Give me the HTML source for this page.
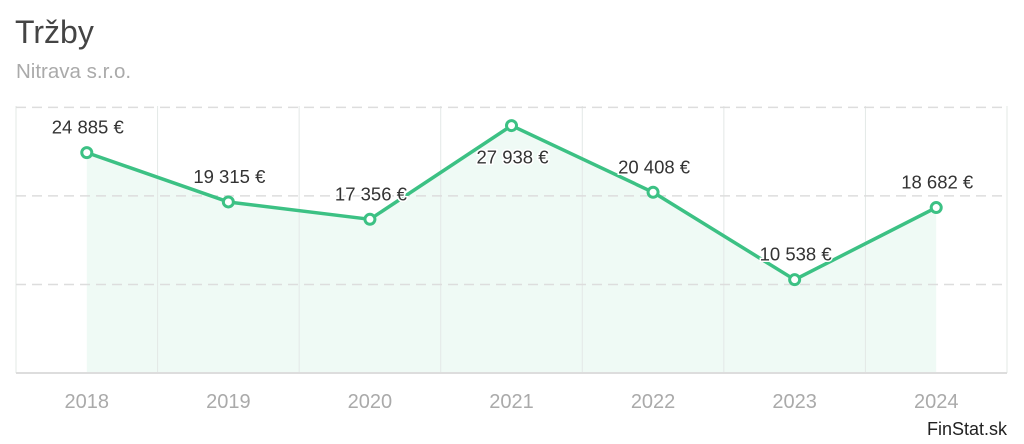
<!DOCTYPE html>
<html><head><meta charset="utf-8"><style>
body{margin:0;background:#fff;width:1024px;height:444px;overflow:hidden;font-family:"Liberation Sans",sans-serif}
svg{position:absolute;left:0;top:0}
</style></head><body>
<svg width="1024" height="444">
<text x="15" y="43" font-size="32" fill="#444">Tržby</text>
<text x="16" y="78" font-size="20.5" fill="#aaa">Nitrava s.r.o.</text>
<g id="grid"></g>
<g id="marks"></g>
<text x="1007" y="435" font-size="18" fill="#222" text-anchor="end">FinStat.sk</text>
</svg>
<script>
const years=["2018","2019","2020","2021","2022","2023","2024"];
const values=[24885,19315,17356,27938,20408,10538,18682];
const valueLabels=["24 885 €","19 315 €","17 356 €","27 938 €","20 408 €","10 538 €","18 682 €"];
const yTicks=[10000,20000,30000];
const NS="http://www.w3.org/2000/svg";
const L=16,R=1007,B=373,T=106;
const bw=(R-L)/years.length;
const x=i=>L+bw*(i+0.5);
const y=v=>B-v*(B-T)/30150;
function mk(t,a,p){const e=document.createElementNS(NS,t);for(const k in a)e.setAttribute(k,a[k]);p.appendChild(e);return e;}
const g=document.getElementById('grid'),m=document.getElementById('marks');
let d=`M${x(0)},${B}`;values.forEach((v,i)=>d+=`L${x(i)},${y(v)}`);d+=`L${x(values.length-1)},${B}Z`;
const area=mk('path',{d,fill:'#effaf5'},g);


for(let i=0;i<=years.length;i++){const ln=mk('line',{x1:L+bw*i,x2:L+bw*i,y1:T,y2:B,stroke:'#e3e8e6','stroke-width':1},g);

}
yTicks.forEach(t=>{const ln=mk('line',{x1:L,x2:R,y1:y(t),y2:y(t),stroke:'#ddd','stroke-width':1.5,'stroke-dasharray':'10,6'},g);

});
const base=mk('line',{x1:L,x2:R,y1:B,y2:B,stroke:'#ddd','stroke-width':2},g);


years.forEach((yr,i)=>{const t=mk('text',{x:x(i),y:408,'font-size':20,fill:'#aaa','text-anchor':'middle'},g);t.textContent=yr;

});
let pd='';values.forEach((v,i)=>pd+=(i?'L':'M')+x(i)+','+y(v));
const line=mk('path',{d:pd,fill:'none',stroke:'#3cc184','stroke-width':3.5,'stroke-linejoin':'round'},m);


values.forEach((v,i)=>{const c=mk('circle',{cx:x(i),cy:y(v),r:5,fill:'#fff',stroke:'#3cc184','stroke-width':3},m);


const top=y(v)<140;
const t=mk('text',{x:x(i)+1,y:top?y(v)+38:y(v)-19,'font-size':18.5,fill:'#333','text-anchor':'middle',stroke:'#fff','stroke-width':3,'paint-order':'stroke'},m);t.textContent=valueLabels[i];

});
</script>
</body></html>
